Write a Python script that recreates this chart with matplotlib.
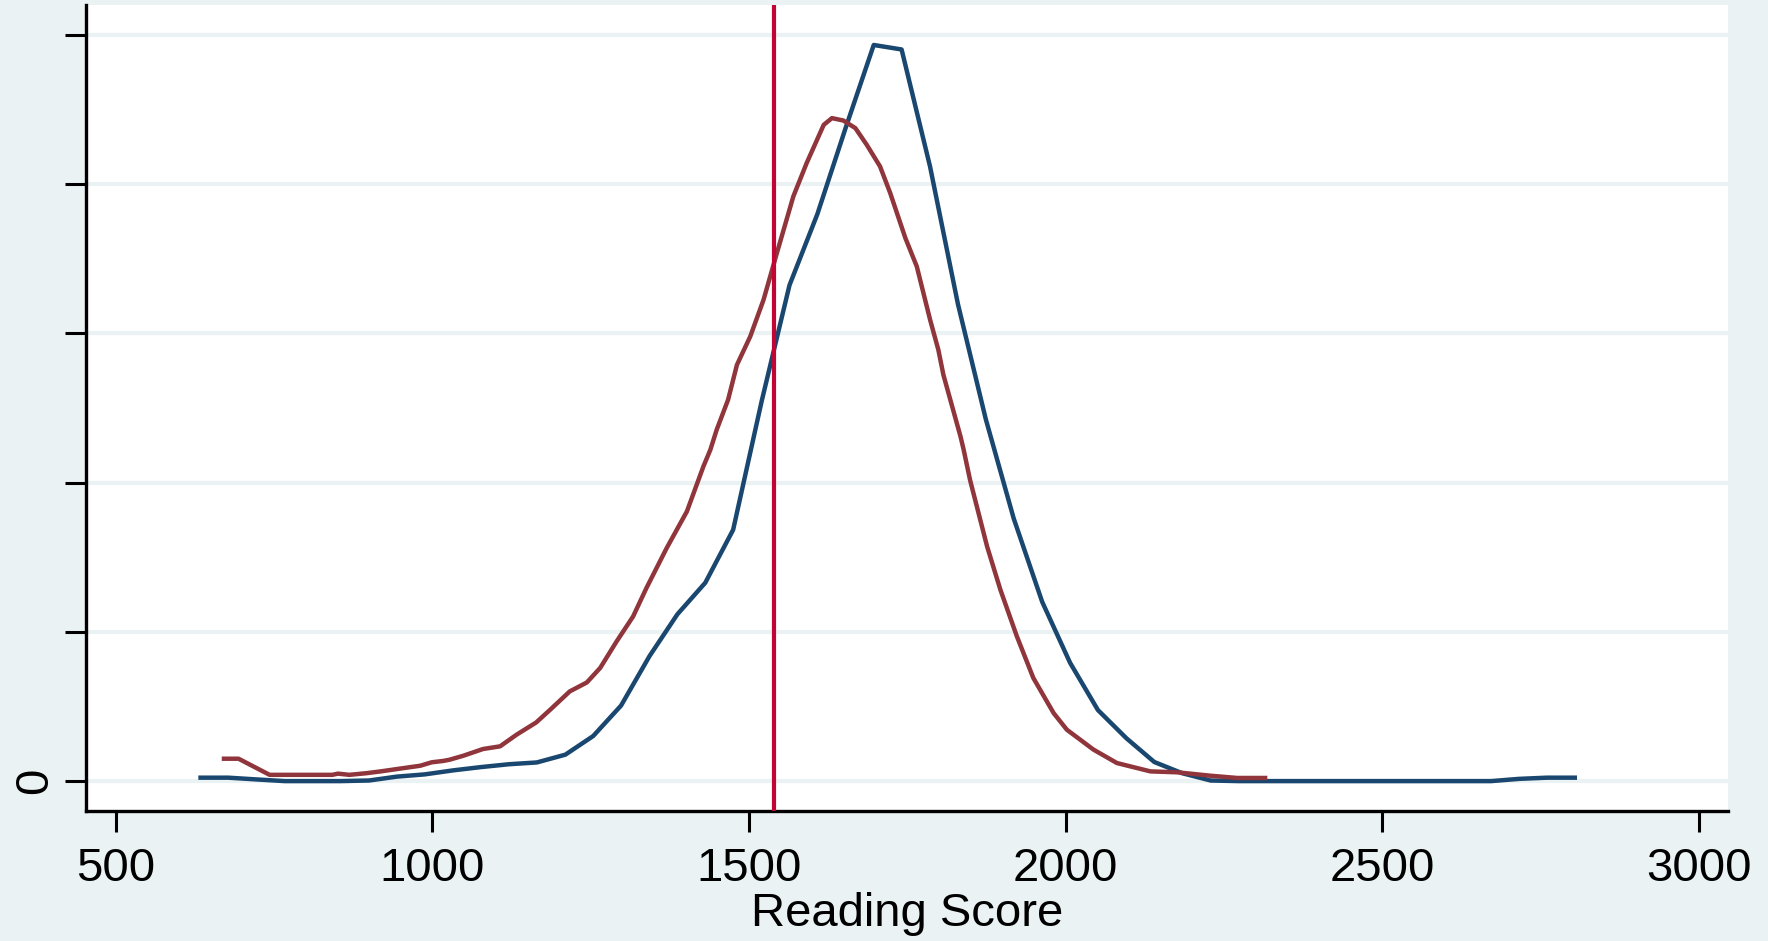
import numpy as np
import matplotlib.pyplot as plt

plt.rcParams['font.family'] = ['Liberation Sans', 'DejaVu Sans']

# density of reading score, group 1 (coarse grid, 50 points) -- values in 1e-4
blue_x = [634, 678, 723, 767, 811, 855, 900, 944, 988, 1033,
          1077, 1121, 1165, 1210, 1254, 1298, 1343, 1387, 1431, 1475,
          1520, 1564, 1608, 1653, 1697, 1741, 1786, 1830, 1874, 1918,
          1963, 2007, 2051, 2096, 2140, 2184, 2229, 2273, 2317, 2361,
          2406, 2450, 2494, 2539, 2583, 2627, 2672, 2716, 2760, 2804]
blue_d = [0.115, 0.115, 0.055, 0, 0, 0, 0.02, 0.15, 0.225, 0.36,
          0.47, 0.565, 0.625, 0.885, 1.51, 2.53, 4.19, 5.59, 6.645, 8.42,
          12.725, 16.615, 18.995, 21.905, 24.66, 24.51, 20.58, 15.975, 12.12, 8.8,
          6.005, 3.965, 2.38, 1.435, 0.64, 0.265, 0.02, 0, 0, 0,
          0, 0, 0, 0, 0, 0, 0, 0.075, 0.115, 0.115]

# density of reading score, group 2 (fine grid) -- values in 1e-4
red_x = [671, 694, 743, 842, 851, 869, 896, 920, 951, 981,
         999, 1017, 1027, 1049, 1080, 1107, 1133, 1164, 1186, 1217,
         1244, 1265, 1291, 1317, 1338, 1370, 1402, 1428, 1439, 1449,
         1467, 1481, 1502, 1523, 1544, 1570, 1591, 1618, 1631, 1649,
         1668, 1686, 1707, 1723, 1747, 1765, 1786, 1799, 1807, 1834,
         1839, 1849, 1876, 1897, 1923, 1949, 1981, 2002, 2044, 2081,
         2134, 2176, 2229, 2271, 2315]
red_d = [0.75, 0.75, 0.21, 0.21, 0.25, 0.21, 0.265, 0.33, 0.425, 0.515,
         0.63, 0.675, 0.715, 0.85, 1.075, 1.165, 1.555, 1.965, 2.39, 3.005,
         3.305, 3.79, 4.68, 5.515, 6.465, 7.805, 9.035, 10.54, 11.1, 11.77,
         12.775, 13.945, 14.895, 16.125, 17.685, 19.585, 20.7, 21.985, 22.21, 22.13,
         21.875, 21.315, 20.59, 19.7, 18.19, 17.24, 15.455, 14.45, 13.61, 11.545,
         11.1, 10.095, 7.86, 6.41, 4.85, 3.455, 2.28, 1.72, 1.055, 0.605,
         0.325, 0.295, 0.18, 0.105, 0.105]

cutoff = 1540
xticks = [500, 1000, 1500, 2000, 2500, 3000]
yticks = [0, 0.0005, 0.001, 0.0015, 0.002, 0.0025]
ylabels = ['0', '', '', '', '', '']

bg = '#EAF2F3'
fig = plt.figure(figsize=(17.68, 9.41), dpi=100, facecolor=bg)
ax = fig.add_axes([0.0486, 0.1382, 0.9288, 0.8565])
ax.set_facecolor('white')

for y in yticks:
    ax.axhline(y, color=bg, lw=3, zorder=0)

ax.plot(blue_x, np.array(blue_d) / 10000, color='#1A476F', lw=3.2, zorder=3)
ax.plot(red_x, np.array(red_d) / 10000, color='#90353B', lw=3.2, zorder=3)
ax.axvline(cutoff, color='#C10534', lw=3.0, zorder=4)

ax.set_xlim(453, 3046)
ax.set_ylim(-0.0001, 0.0026)
ax.set_xticks(xticks)
ax.set_yticks(yticks)
ax.set_yticklabels(ylabels, rotation=90, va='center')
ax.tick_params(axis='both', labelsize=34, length=15, width=2.2, direction='out')
ax.tick_params(axis='x', pad=11)
ax.tick_params(axis='y', pad=6)
ax.set_xlabel('Reading Score', fontsize=34, labelpad=1)

for s in ['top', 'right']:
    ax.spines[s].set_visible(False)
for s in ['left', 'bottom']:
    ax.spines[s].set_linewidth(2.4)

plt.savefig('out.png', dpi=100, facecolor=bg)
